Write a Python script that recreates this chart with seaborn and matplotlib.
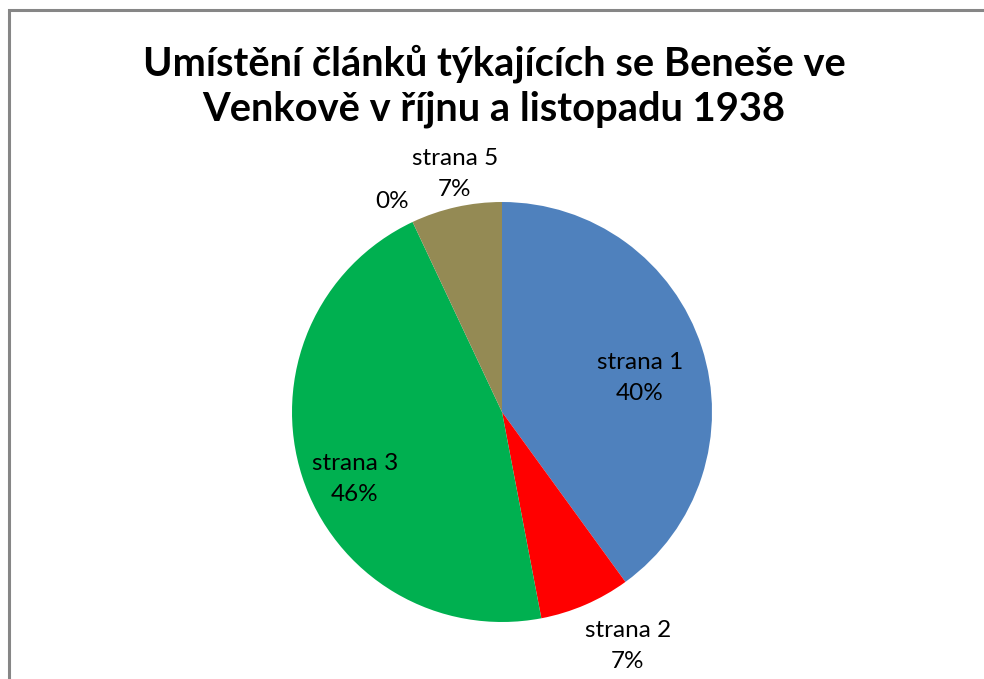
import matplotlib
matplotlib.use("Agg")
import matplotlib.pyplot as plt
import seaborn as sns
from matplotlib.patches import Rectangle

sns.set_theme(style="white")
plt.rcParams['font.family'] = ['Lato', 'DejaVu Sans']

categories = ["strana 1", "strana 2", "strana 3", "strana 4", "strana 5"]
values = [40, 7, 46, 0, 7]
colors = ["#4F81BD", "#FF0000", "#00B050", "#8064A2", "#948A54"]
title = "Umístění článků týkajících se Beneše ve\nVenkově v říjnu a listopadu 1938"

W, H = 984, 679
fig = plt.figure(figsize=(W / 100, H / 100), dpi=100)
fig.patch.set_facecolor("white")

# border (chart area frame, clipped at right/bottom)
fig.add_artist(Rectangle((9 / W, -0.1), 1.2, 1.1 - 10.5 / H, transform=fig.transFigure,
                         fill=False, edgecolor="#868686", linewidth=2.2))

cx, cy, r = 502, 412, 210
ax = fig.add_axes([(cx - r) / W, 1 - (cy + r) / H, 2 * r / W, 2 * r / H])
wedges, _ = ax.pie(values, colors=colors, startangle=90, counterclock=False,
                   radius=1.0, wedgeprops=dict(linewidth=0))
ax.set_xlim(-1, 1)
ax.set_ylim(-1, 1)
ax.set_aspect("equal")
ax.axis("off")

total = sum(values)
label_pos = {
    "strana 1": (0.657, 0.162, True),
    "strana 2": (0.60, -1.114, True),
    "strana 3": (-0.70, -0.319, True),
    "strana 4": (-0.525, 1.0, False),
    "strana 5": (-0.224, 1.133, True),
}
for cat, v in zip(categories, values):
    x, y, show_name = label_pos[cat]
    pct = f"{round(100 * v / total)}%"
    txt = f"{cat}\n{pct}" if show_name else pct
    ax.text(x, y, txt, ha="center", va="center", fontsize=17.5, color="#000000",
            linespacing=1.6, clip_on=False)

fig.text(494 / W, 1 - 86 / H, title, ha="center", va="center", fontsize=28.7,
         fontweight="bold", linespacing=1.25, color="#000000")

fig.savefig("out.png", dpi=100)
